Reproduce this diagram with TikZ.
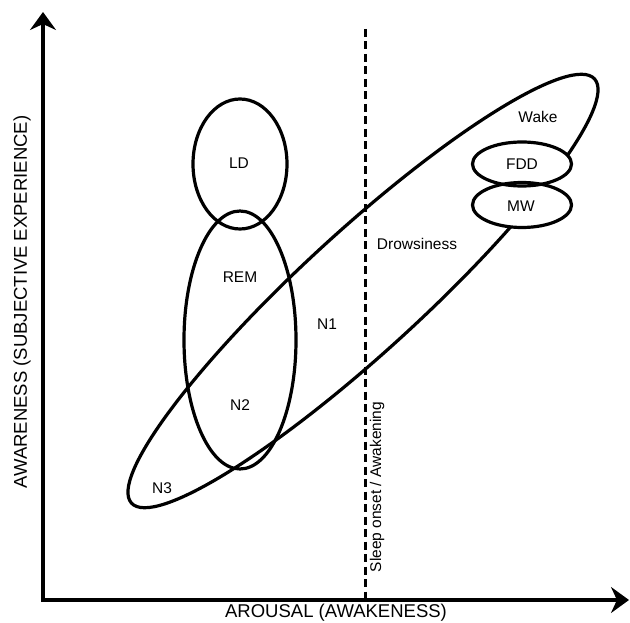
\documentclass[tikz,border=0pt]{standalone}
\usepackage{fontspec}
\setmainfont{Liberation Sans}
\usetikzlibrary{arrows.meta}
\tikzset{
  region/.style={line width=3.2pt},
  lbl/.style={inner sep=0pt, font=\fontsize{15.5}{18}\selectfont},
  axislbl/.style={inner sep=0pt, font=\fontsize{18.5}{21}\selectfont},
  axisline/.style={line width=4pt, line join=miter,
    {Stealth[length=18pt,width=26pt,inset=6pt]}-{Stealth[length=18pt,width=26pt,inset=6pt]}},
  divider/.style={line width=3pt, dash pattern=on 8pt off 4.5pt}
}
\begin{document}
\begin{tikzpicture}[x=1pt,y=-1pt]
\useasboundingbox (0,0) rectangle (630,623);
% axes
\coordinate (ytip) at (43,12);
\coordinate (origin) at (43,600);
\coordinate (xtip) at (629,600);
\draw[axisline] (ytip) -- (origin) -- (xtip);
% divider
\coordinate (dtop) at (365,29);
\coordinate (dbot) at (365,600);
\draw[divider] (dtop) -- (dbot);
% big tilted ellipse
\draw[region] (363,291) ellipse [x radius=314pt, y radius=60pt, rotate=42.5];
% LD and REM/N2
\draw[region] (240,164) ellipse [x radius=47pt, y radius=65pt];
\draw[region] (240,340) ellipse [x radius=56pt, y radius=129pt];
% FDD and MW
\fill[white] (522,164) ellipse [x radius=49.5pt, y radius=22pt];
\fill[white] (522,205) ellipse [x radius=49.5pt, y radius=22.5pt];
\draw[region] (522,164) ellipse [x radius=49.5pt, y radius=22pt];
\draw[region] (522,205) ellipse [x radius=49.5pt, y radius=22.5pt];
% labels
\node[lbl] (wake) at (538,117) {Wake};
\node[lbl] (fdd) at (522,164) {FDD};
\node[lbl] (mw) at (521,206) {MW};
\node[lbl] (drow) at (417,244) {Drowsiness};
\node[lbl] (ld) at (239,163) {LD};
\node[lbl] (rem) at (240,277) {REM};
\node[lbl] (n1) at (327,324) {N1};
\node[lbl] (n2) at (240,405) {N2};
\node[lbl] (n3) at (162,488) {N3};
\node[lbl, rotate=90] (sleep) at (377,487) {Sleep onset / Awakening};
\node[axislbl] (xlab) at (336,613) {AROUSAL (AWAKENESS)};
\node[axislbl, rotate=90] (ylab) at (22,302) {AWARENESS (SUBJECTIVE EXPERIENCE)};
\end{tikzpicture}
\end{document}
